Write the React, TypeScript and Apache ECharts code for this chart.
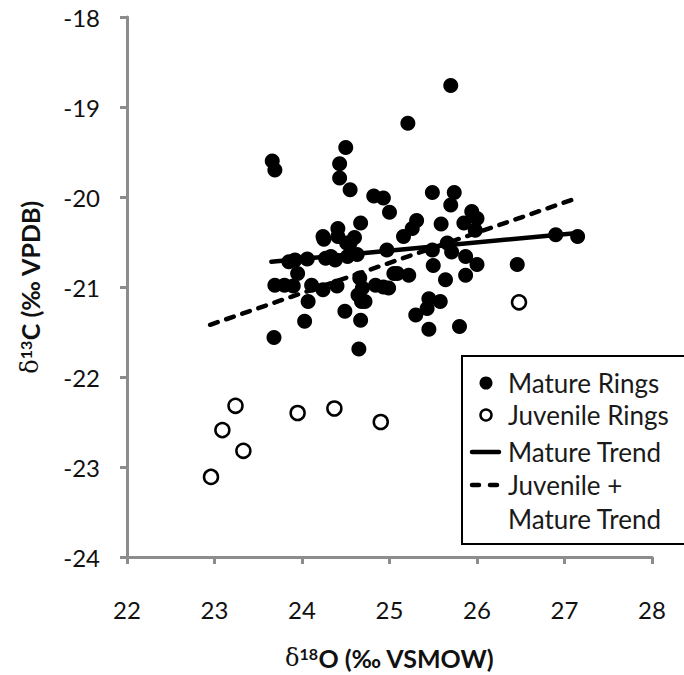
import React, { useEffect, useRef } from "react";
import * as echarts from "echarts";

const matureRings: [number, number][] = [
  [25.70, -18.76], [25.21, -19.18], [24.50, -19.45], [23.66, -19.60], [23.69, -19.70],
  [24.43, -19.63], [24.43, -19.79], [24.55, -19.92], [24.82, -19.99], [24.93, -20.01],
  [25.00, -20.17], [25.49, -19.95], [25.74, -19.95], [25.70, -20.09], [24.67, -20.29],
  [24.41, -20.35], [25.31, -20.26], [25.26, -20.35], [25.16, -20.44], [25.59, -20.30],
  [25.94, -20.16], [26.00, -20.24], [25.85, -20.29], [25.98, -20.37], [24.24, -20.44],
  [24.41, -20.44], [24.25, -20.47], [24.51, -20.51], [24.55, -20.51], [23.92, -20.70],
  [24.06, -20.69], [24.27, -20.68], [24.38, -20.70], [24.52, -20.66], [24.63, -20.64],
  [24.97, -20.59], [25.49, -20.59], [25.66, -20.51], [25.71, -20.61], [25.87, -20.66],
  [26.00, -20.75], [26.46, -20.75], [26.90, -20.42], [27.15, -20.44], [25.50, -20.76],
  [23.95, -20.85], [23.69, -20.98], [23.80, -20.98], [23.90, -20.99], [24.11, -20.98],
  [24.24, -21.03], [24.40, -20.99], [24.07, -21.16], [24.03, -21.38], [23.68, -21.56],
  [24.49, -21.27], [24.66, -20.90], [24.69, -21.01], [24.64, -21.09], [24.68, -21.16],
  [24.72, -21.16], [24.67, -21.37], [24.65, -21.69], [25.09, -20.85], [25.22, -20.87],
  [24.93, -21.00], [24.99, -21.01], [25.64, -20.92], [25.87, -20.87], [25.45, -21.13],
  [25.58, -21.16], [25.43, -21.24], [25.30, -21.31], [25.45, -21.47], [25.80, -21.44],
  [24.60, -20.45], [25.05, -20.85], [24.84, -20.98], [23.85, -20.72], [24.33, -20.66],
];

const juvenileRings: [number, number][] = [
  [23.24, -22.32], [23.09, -22.59], [23.33, -22.82], [22.96, -23.11],
  [23.95, -22.40], [24.37, -22.35], [24.90, -22.50], [26.48, -21.17],
];

const matureTrend: [number, number][] = [[23.65, -20.72], [27.15, -20.40]];
const juvenileMatureTrend: [number, number][] = [[22.95, -21.42], [27.15, -20.01]];

const xTicks = [22, 23, 24, 25, 26, 27, 28];
const yTicks = [-24, -23, -22, -21, -20, -19, -18];

const legendItems = ["Mature Rings", "Juvenile Rings", "Mature Trend", "Juvenile +", "Mature Trend"];

const FONT = "Lato";
const AXIS_GRAY = "#8c8c8c";

const nameRich = {
  d: { fontFamily: "DejaVu Serif", fontSize: 24, color: "#111" },
  s: { fontFamily: FONT, fontSize: 16, fontWeight: "bold", color: "#111", verticalAlign: "top", lineHeight: 26 },
  b: { fontFamily: FONT, fontSize: 25, fontWeight: "bold", color: "#111" },
};

export default function App() {
  const ref = useRef<HTMLDivElement>(null);
  useEffect(() => {
    if (!ref.current) return;
    const chart = echarts.init(ref.current, undefined, { renderer: "svg" });
    const lx = 462;
    const ly = 356;
    const rowY = [383, 415, 452, 485, 519];
    const textX = 508;
    const legendText = (s: string, y: number) => ({
      type: "text",
      x: textX,
      y,
      z: 101,
      style: { text: s, fontFamily: FONT, fontSize: 26, fill: "#1a1a1a", verticalAlign: "middle", align: "left" },
    });
    chart.setOption({
      animation: false,
      backgroundColor: "#ffffff",
      grid: { left: 127, right: 32, top: 17, bottom: 118, containLabel: false, outerBoundsMode: "none" },
      xAxis: {
        type: "value",
        min: xTicks[0],
        max: xTicks[xTicks.length - 1],
        interval: 1,
        splitLine: { show: false },
        axisLine: { onZero: false, lineStyle: { color: AXIS_GRAY, width: 3 } },
        axisTick: { show: true, length: 7, lineStyle: { color: AXIS_GRAY, width: 3 } },
        axisLabel: { color: "#111", fontFamily: FONT, fontSize: 24, margin: 40 },
        name: "{d|δ}{s|18}{b|O (‰ VSMOW)}",
        nameLocation: "middle",
        nameGap: 88,
        nameTextStyle: { rich: nameRich },
      },
      yAxis: {
        type: "value",
        min: yTicks[0],
        max: yTicks[yTicks.length - 1],
        interval: 1,
        splitLine: { show: false },
        axisLine: { onZero: false, lineStyle: { color: AXIS_GRAY, width: 3 } },
        axisTick: { show: true, length: 7, lineStyle: { color: AXIS_GRAY, width: 3 } },
        axisLabel: { color: "#111", fontFamily: FONT, fontSize: 24, margin: 27 },
        name: "{d|δ}{s|13}{b|C (‰ VPDB)}",
        nameLocation: "middle",
        nameGap: 84,
        nameRotate: 90,
        nameTextStyle: { rich: nameRich },
      },
      series: [
        {
          name: "Mature Rings",
          type: "scatter",
          data: matureRings,
          symbol: "circle",
          symbolSize: 15,
          itemStyle: { color: "#000", opacity: 1 },
          z: 2,
        },
        {
          name: "Juvenile Rings",
          type: "scatter",
          data: juvenileRings,
          symbol: "circle",
          symbolSize: 14,
          itemStyle: { color: "#fff", borderColor: "#000", borderWidth: 2.5, opacity: 1 },
          z: 2,
        },
        {
          name: "Mature Trend",
          type: "line",
          data: matureTrend,
          showSymbol: false,
          symbol: "none",
          lineStyle: { color: "#000", width: 4.5, cap: "round" },
          z: 3,
        },
        {
          name: "Juvenile + Mature Trend",
          type: "line",
          data: juvenileMatureTrend,
          showSymbol: false,
          symbol: "none",
          lineStyle: { color: "#000", width: 4.5, type: [8, 9], cap: "round" },
          z: 3,
        },
      ],
      graphic: [
        {
          type: "rect",
          z: 100,
          shape: { x: lx, y: ly, width: 260, height: 188 },
          style: { fill: "#fff", stroke: "#000", lineWidth: 2 },
        },
        { type: "circle", z: 101, shape: { cx: 486, cy: rowY[0], r: 6.5 }, style: { fill: "#000" } },
        { type: "circle", z: 101, shape: { cx: 486, cy: rowY[1], r: 5.5 }, style: { fill: "#fff", stroke: "#000", lineWidth: 2.5 } },
        { type: "line", z: 101, shape: { x1: 472, y1: rowY[2], x2: 499, y2: rowY[2] }, style: { stroke: "#000", lineWidth: 4.5, lineCap: "round" } },
        { type: "line", z: 101, shape: { x1: 472, y1: rowY[3], x2: 479, y2: rowY[3] }, style: { stroke: "#000", lineWidth: 4.5, lineCap: "round" } },
        { type: "line", z: 101, shape: { x1: 490, y1: rowY[3], x2: 497, y2: rowY[3] }, style: { stroke: "#000", lineWidth: 4.5, lineCap: "round" } },
        legendText(legendItems[0], rowY[0]),
        legendText(legendItems[1], rowY[1]),
        legendText(legendItems[2], rowY[2]),
        legendText(legendItems[3], rowY[3]),
        legendText(legendItems[4], rowY[4]),
      ],
    });
    return () => chart.dispose();
  }, []);
  return <div ref={ref} style={{ position: "fixed", left: 0, top: 0, width: 684, height: 675 }} />;
}
